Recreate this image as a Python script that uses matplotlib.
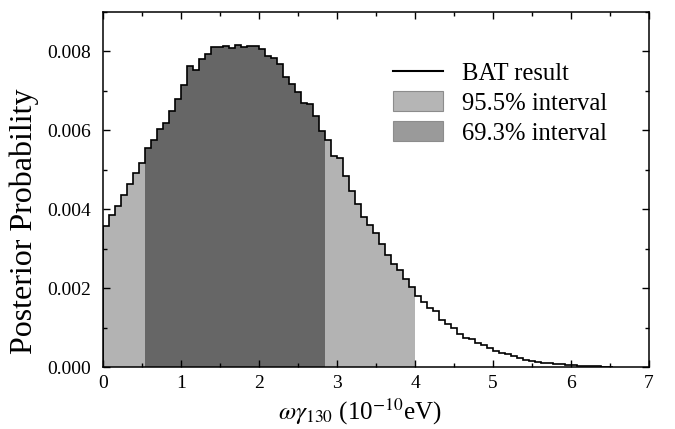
import numpy as np
import matplotlib
matplotlib.use("Agg")
import matplotlib.pyplot as plt
from matplotlib.patches import Patch
from matplotlib.lines import Line2D
from matplotlib.ticker import MultipleLocator, FormatStrFormatter

# posterior histogram (units of 1e-3), bin width 0.077 starting at 0
bin_width = 0.077
posterior = np.array([
    3.57, 3.84, 4.07, 4.35, 4.64, 4.92, 5.16, 5.55, 5.76, 6.03,
    6.19, 6.48, 6.80, 7.15, 7.63, 7.53, 7.80, 7.94, 8.11, 8.12,
    8.13, 8.09, 8.16, 8.11, 8.13, 8.14, 8.05, 7.88, 7.82, 7.67,
    7.35, 7.18, 6.98, 6.70, 6.66, 6.36, 5.97, 5.75, 5.35, 5.29,
    4.85, 4.45, 4.13, 3.81, 3.59, 3.39, 3.11, 2.83, 2.60, 2.45,
    2.24, 2.03, 1.80, 1.65, 1.50, 1.42, 1.20, 1.10, 0.98, 0.83,
    0.74, 0.70, 0.61, 0.56, 0.47, 0.41, 0.36, 0.32, 0.28, 0.23,
    0.19, 0.16, 0.13, 0.11, 0.09, 0.08, 0.065, 0.055, 0.045, 0.035,
    0.03, 0.02, 0.015, 0.01, 0.005,
]) * 1e-3

# interval bin ranges [first, last) for shading
int_95 = (0, 52)
int_69 = (7, 37)

labels = ["BAT result", "95.5% interval", "69.3% interval"]

plt.rcParams["font.family"] = ["Liberation Serif", "DejaVu Serif"]
plt.rcParams["mathtext.fontset"] = "stix"

edges = bin_width * np.arange(len(posterior) + 1)

fig = plt.figure(figsize=(6.75, 4.29), dpi=100)
ax = fig.add_axes([0.1533, 0.1445, 0.808, 0.828])

ax.stairs(posterior[int_95[0]:int_95[1]], edges[int_95[0]:int_95[1] + 1],
          fill=True, color="#b3b3b3", lw=0)
ax.stairs(posterior[int_69[0]:int_69[1]], edges[int_69[0]:int_69[1] + 1],
          fill=True, color="#666666", lw=0)
ax.stairs(posterior, edges, color="black", lw=1.2)

ax.set_xlim(0, 7)
ax.set_ylim(0, 0.009)
ax.xaxis.set_major_locator(MultipleLocator(1))
ax.xaxis.set_minor_locator(MultipleLocator(0.5))
ax.yaxis.set_major_locator(MultipleLocator(0.002))
ax.yaxis.set_minor_locator(MultipleLocator(0.001))
ax.yaxis.set_major_formatter(FormatStrFormatter("%.3f"))
ax.tick_params(which="both", direction="in", top=True, right=True,
               labelsize=14, width=1)
ax.tick_params(which="major", length=5)
ax.tick_params(which="minor", length=3)
ax.tick_params(axis="x", pad=6)
ax.tick_params(axis="y", pad=9)
for s in ax.spines.values():
    s.set_linewidth(1.1)

ax.set_xlabel(r"$\omega\gamma_{130}$ (10$^{-10}$eV)", fontsize=18)
ax.xaxis.set_label_coords(0.47, -0.085)
ax.set_ylabel("Posterior Probability", fontsize=23)
ax.yaxis.set_label_coords(-0.119, 0.41)

handles = [
    Line2D([], [], color="black", lw=1.5),
    Patch(facecolor="#b5b5b5", edgecolor="#8c8c8c", lw=0.8),
    Patch(facecolor="#9a9a9a", edgecolor="#8c8c8c", lw=0.8),
]
ax.legend(handles, labels, loc="upper left", bbox_to_anchor=(0.531, 0.861),
          frameon=False, fontsize=17.7, handlelength=2.03, handleheight=0.9,
          handletextpad=0.77, labelspacing=0.25, borderpad=0, borderaxespad=0)

fig.savefig("out.png", dpi=100)
